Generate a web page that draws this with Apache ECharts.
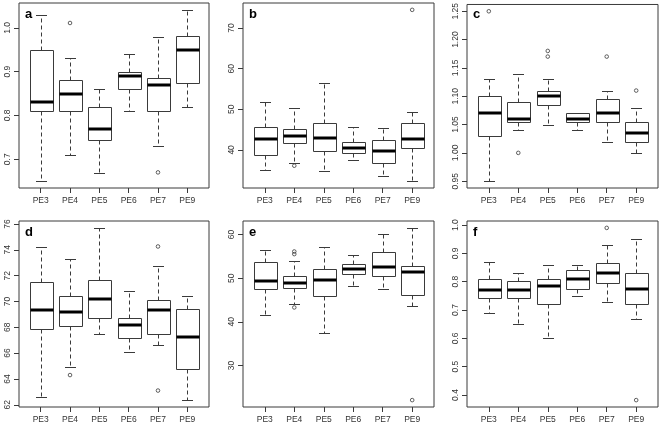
<!DOCTYPE html>
<html>
<head>
<meta charset="utf-8">
<script src="https://cdn.jsdelivr.net/npm/echarts@6/dist/echarts.min.js"></script>
<style>
html,body{margin:0;padding:0;background:#fff;}
#chart{width:662px;height:427px;}
</style>
</head>
<body>
<div id="chart"></div>
<script>
// ---- data ----
const categories = ['PE3', 'PE4', 'PE5', 'PE6', 'PE7', 'PE9'];
// each row: [lower whisker, Q1, median, Q3, upper whisker]
const boxA = [[0.65, 0.81, 0.83, 0.95, 1.03], [0.71, 0.81, 0.85, 0.88, 0.931], [0.669, 0.745, 0.77, 0.819, 0.86], [0.81, 0.86, 0.89, 0.90, 0.94], [0.73, 0.81, 0.87, 0.885, 0.98], [0.82, 0.875, 0.95, 0.981, 1.041]];
const outA = [['PE4', 1.011], ['PE7', 0.67]];
const ticksA = ['0.7', '0.8', '0.9', '1.0'];

const boxB = [[35.0, 38.7, 42.7, 45.6, 51.9], [36.8, 41.6, 43.5, 45.2, 50.4], [34.9, 39.8, 43.0, 46.7, 56.5], [37.6, 39.3, 40.5, 42.0, 45.6], [33.5, 36.8, 39.8, 42.4, 45.5], [32.3, 40.5, 42.6, 46.7, 49.4]];
const outB = [['PE4', 36.1], ['PE9', 74.5]];
const ticksB = ['40', '50', '60', '70'];

const boxC = [[0.95, 1.03, 1.07, 1.10, 1.13], [1.04, 1.055, 1.06, 1.09, 1.14], [1.05, 1.085, 1.10, 1.11, 1.13], [1.04, 1.055, 1.06, 1.07, 1.07], [1.02, 1.055, 1.07, 1.095, 1.11], [1.00, 1.02, 1.035, 1.055, 1.08]];
const outC = [['PE3', 1.25], ['PE4', 1.00], ['PE5', 1.17], ['PE5', 1.18], ['PE7', 1.17], ['PE9', 1.11]];
const ticksC = ['0.95', '1.00', '1.05', '1.10', '1.15', '1.20', '1.25'];

const boxD = [[62.57, 67.9, 69.35, 71.5, 74.2], [64.9, 68.1, 69.2, 70.4, 73.3], [67.45, 68.75, 70.2, 71.7, 75.7], [66.1, 67.2, 68.2, 68.75, 70.85], [66.6, 67.5, 69.35, 70.13, 72.75], [62.36, 64.8, 67.27, 69.45, 70.4]];
const outD = [['PE4', 64.3], ['PE7', 74.26], ['PE7', 63.1]];
const ticksD = ['62', '64', '66', '68', '70', '72', '74', '76'];

const boxE = [[41.6, 47.5, 49.3, 53.6, 56.4], [44.0, 47.8, 49.0, 50.4, 53.9], [37.4, 45.9, 49.6, 52.2, 57.2], [48.2, 50.9, 52.2, 53.2, 55.2], [47.5, 50.5, 52.6, 56.0, 60.1], [43.7, 46.2, 51.3, 52.8, 61.5]];
const outE = [['PE4', 56.1], ['PE4', 55.5], ['PE4', 43.3], ['PE9', 22.1]];
const ticksE = ['30', '40', '50', '60'];

const boxF = [[0.691, 0.741, 0.77, 0.81, 0.869], [0.651, 0.741, 0.77, 0.801, 0.829], [0.60, 0.72, 0.786, 0.81, 0.86], [0.751, 0.775, 0.81, 0.84, 0.86], [0.73, 0.795, 0.83, 0.865, 0.93], [0.67, 0.72, 0.775, 0.83, 0.951]];
const outF = [['PE7', 0.99], ['PE9', 0.382]];
const ticksF = ['0.4', '0.5', '0.6', '0.7', '0.8', '0.9', '1.0'];

const panelLabels = ['a', 'b', 'c', 'd', 'e', 'f'];

// ---- layout ----
const panels = [
  { box: boxA, out: outA, ticks: ticksA },
  { box: boxB, out: outB, ticks: ticksB },
  { box: boxC, out: outC, ticks: ticksC },
  { box: boxD, out: outD, ticks: ticksD },
  { box: boxE, out: outE, ticks: ticksE },
  { box: boxF, out: outF, ticks: ticksF }
];
const colLeft = [19, 243, 467];
const colWidth = [190, 191, 191];
const rowTop = [3, 221];
const rowHeight = [185, 186];
const FONT = 'Liberation Sans, Arial, Helvetica, sans-serif';
const LINE = '#3a3a3a';

const grids = [], xAxes = [], yAxes = [], series = [], titles = [];

function renderBox(params, api) {
  const x = api.value(0);
  const lo = api.coord([x, api.value(1)]);
  const q1 = api.coord([x, api.value(2)]);
  const md = api.coord([x, api.value(3)]);
  const q3 = api.coord([x, api.value(4)]);
  const hi = api.coord([x, api.value(5)]);
  const hw = api.size([0.4, 0])[0];
  const cw = api.size([0.2, 0])[0];
  const r = v => Math.round(v) + 0.5;
  const cx = r(lo[0]);
  const dashed = { stroke: LINE, lineWidth: 1, lineDash: [4, 3], fill: null };
  const solid = { stroke: LINE, lineWidth: 1, fill: null };
  const children = [];
  if (Math.abs(hi[1] - q3[1]) > 0.5) {
    children.push({ type: 'line', shape: { x1: cx, y1: r(q3[1]), x2: cx, y2: r(hi[1]) }, style: dashed });
  }
  if (Math.abs(lo[1] - q1[1]) > 0.5) {
    children.push({ type: 'line', shape: { x1: cx, y1: r(q1[1]), x2: cx, y2: r(lo[1]) }, style: dashed });
  }
  children.push({ type: 'line', shape: { x1: Math.round(cx - cw), y1: r(hi[1]), x2: Math.round(cx + cw), y2: r(hi[1]) }, style: solid });
  children.push({ type: 'line', shape: { x1: Math.round(cx - cw), y1: r(lo[1]), x2: Math.round(cx + cw), y2: r(lo[1]) }, style: solid });
  const bx = r(cx - hw), bx2 = r(cx + hw);
  const by = r(q3[1]), by2 = r(q1[1]);
  children.push({ type: 'rect', shape: { x: bx, y: by, width: bx2 - bx, height: by2 - by }, style: { stroke: LINE, lineWidth: 1, fill: '#fff' } });
  children.push({ type: 'line', shape: { x1: bx, y1: Math.round(md[1]), x2: bx2, y2: Math.round(md[1]) }, style: { stroke: '#000', lineWidth: 3 } });
  return { type: 'group', children: children };
}

panels.forEach((p, i) => {
  const col = i % 3, row = Math.floor(i / 3);
  grids.push({
    left: colLeft[col], top: rowTop[row], width: colWidth[col], height: rowHeight[row],
    show: true, borderColor: LINE, borderWidth: 1, backgroundColor: 'transparent', containLabel: false
  });
  let lo = Infinity, hi = -Infinity;
  p.box.forEach(b => { lo = Math.min(lo, b[0]); hi = Math.max(hi, b[4]); });
  p.out.forEach(o => { lo = Math.min(lo, o[1]); hi = Math.max(hi, o[1]); });
  const ext = (hi - lo) * 0.04;
  const tickVals = p.ticks.map(Number);
  xAxes.push({
    type: 'value', gridIndex: i, min: 0.26, max: 6.74,
    axisLine: { show: false }, splitLine: { show: false },
    axisTick: { show: true, inside: false, length: 5, lineStyle: { color: LINE }, customValues: [1, 2, 3, 4, 5, 6] },
    axisLabel: {
      show: true, margin: 8, fontSize: 8.5, color: '#333', fontFamily: FONT,
      customValues: [1, 2, 3, 4, 5, 6],
      formatter: v => categories[Math.round(v) - 1]
    }
  });
  yAxes.push({
    type: 'value', gridIndex: i, min: lo - ext, max: hi + ext,
    axisLine: { show: false }, splitLine: { show: false },
    axisTick: { show: true, inside: false, length: 5, lineStyle: { color: LINE }, customValues: tickVals },
    axisLabel: {
      show: true, margin: 7, rotate: 90, fontSize: 8.5, color: '#333', fontFamily: FONT,
      customValues: tickVals,
      formatter: v => {
        const k = tickVals.findIndex(t => Math.abs(t - v) < 1e-9);
        return k >= 0 ? p.ticks[k] : '';
      }
    }
  });
  series.push({
    type: 'custom', xAxisIndex: i, yAxisIndex: i, coordinateSystem: 'cartesian2d',
    renderItem: renderBox, silent: true,
    encode: { x: 0, y: [1, 2, 3, 4, 5] },
    data: p.box.map((b, k) => [k + 1].concat(b))
  });
  series.push({
    type: 'scatter', xAxisIndex: i, yAxisIndex: i, silent: true,
    symbol: 'circle', symbolSize: 3.6,
    itemStyle: { color: 'transparent', borderColor: LINE, borderWidth: 1 },
    data: p.out.map(o => [categories.indexOf(o[0]) + 1, o[1]])
  });
  titles.push({
    text: panelLabels[i], left: colLeft[col] + 6, top: rowTop[row] + 5, padding: 0,
    textStyle: { fontSize: 13, fontWeight: 'bold', color: '#000', fontFamily: FONT }
  });
});

const chart = echarts.init(document.getElementById('chart'), null, { renderer: 'canvas' });
chart.setOption({
  animation: false,
  backgroundColor: '#fff',
  title: titles,
  grid: grids,
  xAxis: xAxes,
  yAxis: yAxes,
  series: series
});
</script>
</body>
</html>
